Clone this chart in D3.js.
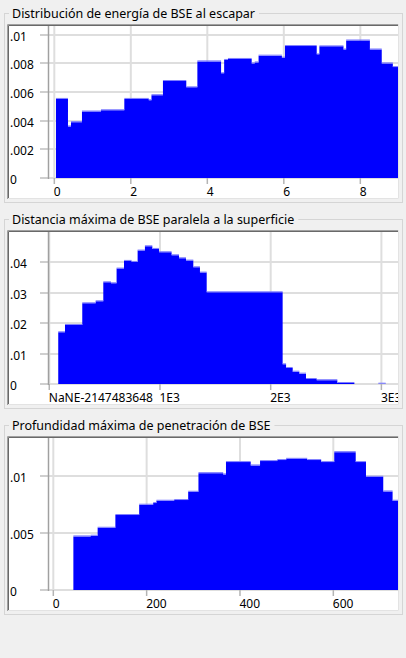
<!doctype html>
<html>
<head>
<meta charset="utf-8">
<style>
    body { margin: 0; background: #f0f0f0; }
    svg { display: block; }
    text { font-family: "Noto Sans", "Open Sans", sans-serif; fill: #000; }
</style>
<script src="https://d3js.org/d3.v7.min.js"></script>
</head>
<body>
<svg width="406" height="658"></svg>
<script>

// chart titles
var titles = [
    "Distribución de energía de BSE al escapar",
    "Distancia máxima de BSE paralela a la superficie",
    "Profundidad máxima de penetración de BSE"
];

// energy distribution (bin edges + heights)
var energyEdges = [0.044, 0.357, 0.436, 0.723, 1.22, 1.83, 2.47, 2.54, 2.84, 3.45, 3.74, 4.36, 4.44, 4.54,
                   5.16, 5.24, 5.34, 5.95, 6.03, 6.86, 6.93, 7.56, 7.63, 8.25, 8.56, 8.85, 9.1];
var energyValues = [0.00552, 0.0036, 0.0039, 0.00464, 0.00473, 0.00552, 0.00543, 0.00578, 0.00677, 0.00633,
                    0.00814, 0.00731, 0.00824, 0.00831, 0.008, 0.00807, 0.00854, 0.0084, 0.00921, 0.00863,
                    0.00919, 0.00897, 0.0096, 0.00897, 0.008, 0.00774];
var energyXTicks = [0, 2, 4, 6, 8];
var energyXLabels = ["0", "2", "4", "6", "8"];
var energyYTicks = [0, 0.002, 0.004, 0.006, 0.008, 0.01];
var energyYLabels = ["0", ".002", ".004", ".006", ".008", ".01"];

// max lateral distance
var distEdges = [81, 142, 298, 419, 488, 557, 608, 675, 744, 798, 864, 931, 991, 1105, 1172, 1235, 1301,
                 1361, 1422, 2108, 2139, 2199, 2259, 2319, 2416, 2602, 2756, 2973, 3039];
var distValues = [0.01699, 0.0194, 0.02652, 0.02718, 0.03342, 0.0331, 0.03792, 0.04044, 0.04011, 0.04384,
                  0.04526, 0.04438, 0.04329, 0.0423, 0.04132, 0.04055, 0.03836, 0.0366, 0.03014, 0.00647,
                  0.00526, 0.00405, 0.0034, 0.00164, 0.00125, 0.00033, 0, 0.0001];
var distXTicks = [0, 1000, 2000, 3000];
var distXLabels = ["NaNE-2147483648", "1E3", "2E3", "3E3"];
var distYTicks = [0, 0.01, 0.02, 0.03, 0.04];
var distYLabels = ["0", ".01", ".02", ".03", ".04"];

// max penetration depth
var depthEdges = [43, 80, 95, 133, 184, 214, 221, 259, 289, 311, 364, 370, 423, 443, 480, 499, 544, 574,
                  602, 648, 670, 707, 727, 745];
var depthValues = [0.00472, 0.00478, 0.00548, 0.0066, 0.00751, 0.00765, 0.00786, 0.00792, 0.00865, 0.01029,
                   0.01018, 0.01126, 0.01097, 0.01135, 0.01144, 0.01155, 0.01144, 0.01126, 0.01214, 0.01126,
                   0.00997, 0.00868, 0.00786];
var depthXTicks = [0, 200, 400, 600];
var depthXLabels = ["0", "200", "400", "600"];
var depthYTicks = [0, 0.005, 0.01];
var depthYLabels = ["0", ".005", ".01"];

var svg = d3.select("svg");

var charts = [
    { title: titles[0], edges: energyEdges, values: energyValues, xDomain: [-0.152, 8.985], yMax: 0.01075,
      xTicks: energyXTicks, xLabels: energyXLabels, yTicks: energyYTicks, yLabels: energyYLabels },
    { title: titles[1], edges: distEdges, values: distValues, xDomain: [-7, 3150], yMax: 0.0506,
      xTicks: distXTicks, xLabels: distXLabels, yTicks: distYTicks, yLabels: distYLabels },
    { title: titles[2], edges: depthEdges, values: depthValues, xDomain: [-10.3, 738.6], yMax: 0.01356,
      xTicks: depthXTicks, xLabels: depthXLabels, yTicks: depthYTicks, yLabels: depthYLabels }
];

var boxLeft = 4, boxRight = 402,
    panelLeft = 7, panelRight = 399, panelH = 175,
    axisX = 48.5;

charts.forEach(function(c, i) {
    var boxTop = 13 + 206 * i,
        panelTop = boxTop + 11,
        zeroY = panelTop + 154;

    var g = svg.append("g");

    // group box
    g.append("rect")
     .attr("x", boxLeft + 0.5).attr("y", boxTop + 0.5)
     .attr("width", boxRight - boxLeft).attr("height", panelH + 14)
     .attr("fill", "none").attr("stroke", "#d5d5d5");

    var title = g.append("text")
     .attr("x", 12).attr("y", boxTop + 4.5)
     .attr("font-size", "12.5px")
     .text(c.title);
    var tw = title.node().getComputedTextLength();
    g.insert("rect", "text")
     .attr("x", 9).attr("y", boxTop - 6)
     .attr("width", tw + 7).attr("height", 12)
     .attr("fill", "#f0f0f0");

    // panel
    g.append("rect")
     .attr("x", panelLeft).attr("y", panelTop)
     .attr("width", panelRight - panelLeft).attr("height", panelH)
     .attr("fill", "#fff");

    var clipId = "clip" + i;
    svg.append("clipPath").attr("id", clipId)
       .append("rect")
       .attr("x", panelLeft + 1).attr("y", panelTop + 1)
       .attr("width", panelRight - panelLeft - 2).attr("height", panelH - 2);

    var inner = g.append("g").attr("clip-path", "url(#" + clipId + ")");

    var x = d3.scaleLinear().domain(c.xDomain).range([axisX, panelRight - 1]);
    var y = d3.scaleLinear().domain([0, c.yMax]).range([zeroY, panelTop]);

    // grid
    inner.selectAll(".hgrid")
     .data(c.yTicks)
     .enter().append("line")
     .attr("x1", axisX).attr("x2", panelRight)
     .attr("y1", function(d) { return Math.round(y(d)); })
     .attr("y2", function(d) { return Math.round(y(d)); })
     .attr("stroke", "#dedede").attr("stroke-width", 2);

    inner.selectAll(".htick")
     .data(c.yTicks)
     .enter().append("line")
     .attr("x1", 40).attr("x2", axisX)
     .attr("y1", function(d) { return Math.round(y(d)); })
     .attr("y2", function(d) { return Math.round(y(d)); })
     .attr("stroke", "#cfcfcf").attr("stroke-width", 2);

    inner.selectAll(".vgrid")
     .data(c.xTicks)
     .enter().append("line")
     .attr("x1", function(d) { return x(d); })
     .attr("x2", function(d) { return x(d); })
     .attr("y1", panelTop).attr("y2", zeroY)
     .attr("stroke", "#dedede").attr("stroke-width", 2);

    inner.selectAll(".vtick")
     .data(c.xTicks)
     .enter().append("line")
     .attr("x1", function(d) { return x(d); })
     .attr("x2", function(d) { return x(d); })
     .attr("y1", zeroY).attr("y2", zeroY + 6)
     .attr("stroke", "#b4b4b4").attr("stroke-width", 1.5);

    // bars as one stepped area
    var pts = c.edges.map(function(e, k) {
        return { x: e, v: k < c.values.length ? c.values[k] : c.values[k - 1] };
    });

    var area = d3.area()
        .curve(d3.curveStepAfter)
        .x(function(d) { return x(d.x); })
        .y0(zeroY)
        .y1(function(d) { return y(d.v); });

    inner.append("path")
     .datum(pts)
     .attr("d", area)
     .attr("fill", "#0000ff");

    var bins = c.values.map(function(v, k) {
        return { x0: c.edges[k], x1: c.edges[k + 1], v: v };
    }).filter(function(d) { return d.v > 0; });

    inner.selectAll(".top")
     .data(bins)
     .enter().append("line")
     .attr("x1", function(d) { return x(d.x0); })
     .attr("x2", function(d) { return x(d.x1); })
     .attr("y1", function(d) { return y(d.v) - 0.5; })
     .attr("y2", function(d) { return y(d.v) - 0.5; })
     .attr("stroke", "#7b7bff").attr("stroke-width", 1);

    // y axis line
    inner.append("line")
     .attr("x1", axisX).attr("x2", axisX)
     .attr("y1", panelTop).attr("y2", zeroY + 1)
     .attr("stroke", "#a0a0a0").attr("stroke-width", 1.5);

    // labels
    inner.selectAll(".ylab")
     .data(c.yTicks)
     .enter().append("text")
     .attr("x", 10)
     .attr("y", function(d) { return y(d) + 6; })
     .attr("font-size", "12px")
     .text(function(d, k) { return c.yLabels[k]; });

    inner.selectAll(".xlab")
     .data(c.xTicks)
     .enter().append("text")
     .attr("x", function(d) { return x(d) - 0.5; })
     .attr("y", panelTop + 172)
     .attr("font-size", "12px")
     .text(function(d, k) { return c.xLabels[k]; });

    // sunken border
    g.append("path")
     .attr("d", "M" + (panelLeft + 0.5) + "," + (panelTop + panelH) + "V" + (panelTop + 0.5) + "H" + panelRight)
     .attr("fill", "none").attr("stroke", "#a0a0a0");
    g.append("path")
     .attr("d", "M" + (panelLeft + 1.5) + "," + (panelTop + panelH - 1) + "V" + (panelTop + 1.5) + "H" + (panelRight - 1))
     .attr("fill", "none").attr("stroke", "#696969");
    g.append("path")
     .attr("d", "M" + (panelLeft + 1) + "," + (panelTop + panelH - 0.5) + "H" + (panelRight - 0.5) + "V" + panelTop)
     .attr("fill", "none").attr("stroke", "#e3e3e3");
});

</script>
</body>
</html>
